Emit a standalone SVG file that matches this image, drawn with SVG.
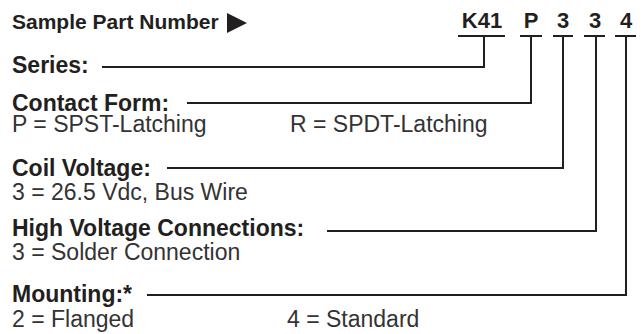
<svg xmlns="http://www.w3.org/2000/svg" width="644" height="334" viewBox="0 0 644 334">
<style>
.b{font-family:"Liberation Sans",Arial,sans-serif;font-weight:bold;font-size:23px;fill:#231f20}
.r{font-family:"Liberation Sans",Arial,sans-serif;font-size:23px;fill:#333}
.pn{font-family:"Liberation Sans",Arial,sans-serif;font-weight:bold;font-size:22px;fill:#231f20;text-anchor:middle}
.ln{fill:none;stroke:#231f20;stroke-width:2}
</style>
<rect width="644" height="334" fill="#fff"/>
<g id="header">
<text class="b" x="12" y="29" style="font-size:21px">Sample Part Number</text>
<polygon points="227,13 247,23 227,33" fill="#231f20"/>
</g>
<g id="part-number">
<text class="pn" x="482" y="28">K41</text>
<text class="pn" x="531" y="28">P</text>
<text class="pn" x="563" y="28">3</text>
<text class="pn" x="595" y="28">3</text>
<text class="pn" x="626" y="28">4</text>
</g>
<g id="series"><text class="b" x="12" y="73">Series:</text></g>
<g id="contact-form">
<text class="b" x="12" y="111">Contact Form:</text>
<text class="r" x="12" y="132">P = SPST-Latching</text>
<text class="r" x="290" y="132">R = SPDT-Latching</text>
</g>
<g id="coil-voltage">
<text class="b" x="12" y="176">Coil Voltage:</text>
<text class="r" x="12" y="200">3 = 26.5 Vdc, Bus Wire</text>
</g>
<g id="hv-connections">
<text class="b" x="12" y="236">High Voltage Connections:</text>
<text class="r" x="12" y="260">3 = Solder Connection</text>
</g>
<g id="mounting">
<text class="b" x="12" y="302">Mounting:*</text>
<text class="r" x="12" y="327">2 = Flanged</text>
<text class="r" x="287" y="327">4 = Standard</text>
</g>
<g id="connectors" class="ln">
<path d="M458,36H505M520,36H542M553,36H573M584,36H605M615,36H636"/>
<path d="M102,67H484V36"/>
<path d="M187,103H531V36"/>
<path d="M167,168H563V36"/>
<path d="M327,231H596V36"/>
<path d="M147,295H626V36"/>
</g>
</svg>
